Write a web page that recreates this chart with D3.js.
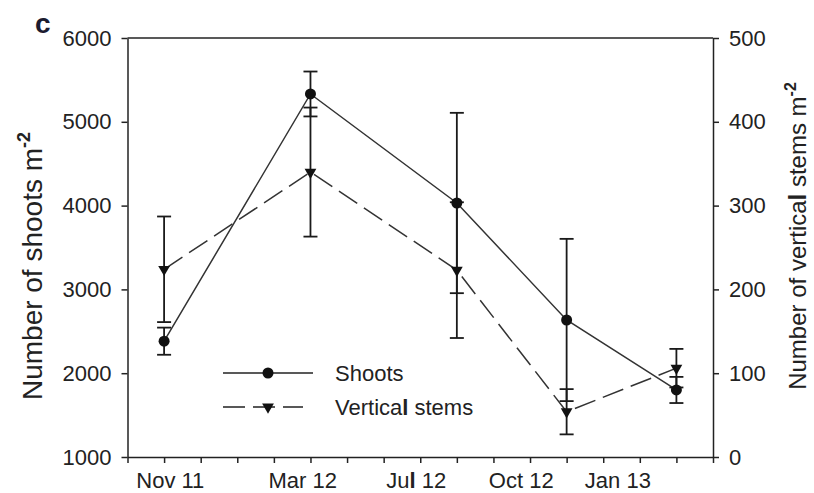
<!DOCTYPE html>
<html>
<head>
<meta charset="utf-8">
<script src="https://cdn.jsdelivr.net/npm/d3@7"></script>
<style>
  body { margin: 0; background: #fff; }
  text { font-family: "Liberation Sans", Arial, sans-serif; fill: #222; }
</style>
</head>
<body>
<div id="chart"></div>
<script>
// Data (x in months counted from Oct 2011)
var months = [1, 5, 9, 12, 15];
var shoots = [2382, 5332, 4031, 2635, 1800];
var shootsErr = [162, 268, 1076, 968, 156];
var stems = [224, 340, 223, 54, 106];
var stemsErr = [63, 77, 81, 27, 23];

var xTickMonths = d3.range(0, 17);
var xLabels = ["Nov 11", "Mar 12", "Jul 12", "Oct 12", "Jan 13"];
var xLabelMonths = [1.17, 4.79, 7.89, 10.76, 13.4];
var leftTicks = [1000, 2000, 3000, 4000, 5000, 6000];
var rightTicks = [0, 100, 200, 300, 400, 500];

var svgWidth = 814;
var svgHeight = 493;
var margin = { top: 38, right: 101, bottom: 36, left: 127.5 };
var chartWidth = svgWidth - margin.left - margin.right;
var chartHeight = svgHeight - margin.top - margin.bottom;

var svg = d3.select("#chart")
  .append("svg")
  .attr("width", svgWidth)
  .attr("height", svgHeight);

var chart = svg.append("g")
  .attr("transform", `translate(${margin.left}, ${margin.top})`);

// Scales
var x = d3.scaleLinear().domain([0, 16]).range([0, chartWidth]);
var yLeft = d3.scaleLinear().domain([1000, 6000]).range([chartHeight, 0]);
var yRight = d3.scaleLinear().domain([0, 500]).range([chartHeight, 0]);

// Axes
var bottomAxis = d3.axisBottom(x).tickValues(xTickMonths).tickFormat("").tickSize(6).tickSizeOuter(0);
var leftAxis = d3.axisLeft(yLeft).tickValues(leftTicks).tickFormat(d3.format("d"))
  .tickSize(6).tickSizeOuter(0).tickPadding(10);
var rightAxis = d3.axisRight(yRight).tickValues(rightTicks).tickFormat(d3.format("d"))
  .tickSize(6).tickSizeOuter(0).tickPadding(10);

chart.append("g")
  .attr("class", "axis")
  .attr("transform", `translate(0, ${chartHeight})`)
  .call(bottomAxis);

chart.append("g")
  .attr("class", "axis")
  .call(leftAxis);

chart.append("g")
  .attr("class", "axis")
  .attr("transform", `translate(${chartWidth}, 0)`)
  .call(rightAxis);

// top frame line
chart.append("line")
  .attr("x1", x(0)).attr("x2", x(16))
  .attr("y1", yLeft(6000)).attr("y2", yLeft(6000))
  .attr("stroke", "#222").attr("stroke-width", 1.5);

chart.selectAll(".axis path, .axis line")
  .attr("stroke", "#222")
  .attr("stroke-width", 1.5);
chart.selectAll(".axis text")
  .style("font-size", "22px")
  .style("font-family", "'Liberation Sans', Arial, sans-serif")
  .attr("fill", "#222");

// x labels (not centred on ticks in the original)
chart.selectAll(".xlab")
  .data(xLabels)
  .enter().append("text")
  .attr("class", "xlab")
  .attr("x", function(d, i) { return x(xLabelMonths[i]); })
  .attr("y", chartHeight + 31)
  .attr("text-anchor", "middle")
  .style("font-size", "22px")
  .each(function(d) {
    var t = d3.select(this);
    if (d === "Jul 12") {
      t.append("tspan").text("Ju");
      t.append("tspan").style("font-weight", "bold").text("l");
      t.append("tspan").text(" 12");
    } else {
      t.text(d);
    }
  });

// Lines
var shootLine = d3.line()
  .x(function(d, i) { return x(months[i]); })
  .y(function(d) { return yLeft(d); });
var stemLine = d3.line()
  .x(function(d, i) { return x(months[i]); })
  .y(function(d) { return yRight(d); });

chart.append("path")
  .datum(shoots)
  .attr("d", shootLine)
  .attr("fill", "none")
  .attr("stroke", "#333")
  .attr("stroke-width", 1.5);

chart.append("path")
  .datum(stems)
  .attr("d", stemLine)
  .attr("fill", "none")
  .attr("stroke", "#333")
  .attr("stroke-width", 1.5)
  .attr("stroke-dasharray", "22,8");

// Error bars
function errorBars(vals, errs, y) {
  var g = chart.append("g");
  vals.forEach(function(v, i) {
    var cx = x(months[i]);
    var top = y(v + errs[i]);
    var bot = y(v - errs[i]);
    g.append("line").attr("x1", cx).attr("x2", cx).attr("y1", top).attr("y2", bot);
    g.append("line").attr("x1", cx - 7).attr("x2", cx + 7).attr("y1", top).attr("y2", top);
    g.append("line").attr("x1", cx - 7).attr("x2", cx + 7).attr("y1", bot).attr("y2", bot);
  });
  g.selectAll("line").attr("stroke", "#1a1a1a").attr("stroke-width", 1.8);
}
errorBars(shoots, shootsErr, yLeft);
errorBars(stems, stemsErr, yRight);

// Markers
chart.selectAll(".dot")
  .data(shoots)
  .enter().append("circle")
  .attr("class", "dot")
  .attr("cx", function(d, i) { return x(months[i]); })
  .attr("cy", function(d) { return yLeft(d); })
  .attr("r", 5.5)
  .attr("fill", "#111");

var tri = d3.symbol().type(d3.symbolTriangle).size(60);
chart.selectAll(".tri")
  .data(stems)
  .enter().append("path")
  .attr("class", "tri")
  .attr("d", tri)
  .attr("transform", function(d, i) {
    return `translate(${x(months[i])}, ${yRight(d)}) rotate(180)`;
  })
  .attr("fill", "#111");

// Legend
var legend = svg.append("g");
legend.append("line")
  .attr("x1", 223).attr("x2", 313).attr("y1", 373).attr("y2", 373)
  .attr("stroke", "#222").attr("stroke-width", 1.6);
legend.append("circle")
  .attr("cx", 268).attr("cy", 373).attr("r", 5.5).attr("fill", "#111");
legend.append("text")
  .attr("x", 335).attr("y", 381)
  .style("font-size", "22px")
  .text("Shoots");

legend.append("line")
  .attr("x1", 223).attr("x2", 303).attr("y1", 407).attr("y2", 407)
  .attr("stroke", "#222").attr("stroke-width", 1.6)
  .attr("stroke-dasharray", "22,8");
legend.append("path")
  .attr("d", tri)
  .attr("transform", "translate(268, 407) rotate(180)")
  .attr("fill", "#111");
var vs = legend.append("text")
  .attr("x", 335).attr("y", 415)
  .style("font-size", "22px");
vs.append("tspan").text("Vertica");
vs.append("tspan").style("font-weight", "bold").text("l");
vs.append("tspan").text(" stems");

// Axis titles
var lt = svg.append("text")
  .attr("transform", "translate(42, 266) rotate(-90)")
  .attr("text-anchor", "middle")
  .style("font-size", "28px");
lt.append("tspan").text("Number of shoots m");
lt.append("tspan").attr("dy", -12).style("font-size", "18px").style("font-weight", "bold").text("-2");

var rt = svg.append("text")
  .attr("transform", "translate(806, 236) rotate(-90)")
  .attr("text-anchor", "middle")
  .style("font-size", "24px");
rt.append("tspan").text("Number of vertica");
rt.append("tspan").style("font-weight", "bold").text("l");
rt.append("tspan").text(" stems m");
rt.append("tspan").attr("dy", -10).style("font-size", "16px").style("font-weight", "bold").text("-2");

// Panel letter
svg.append("text")
  .attr("x", 35).attr("y", 33)
  .style("font-size", "28px")
  .style("font-weight", "bold")
  .style("fill", "#1b1b30")
  .text("c");
</script>
</body>
</html>
